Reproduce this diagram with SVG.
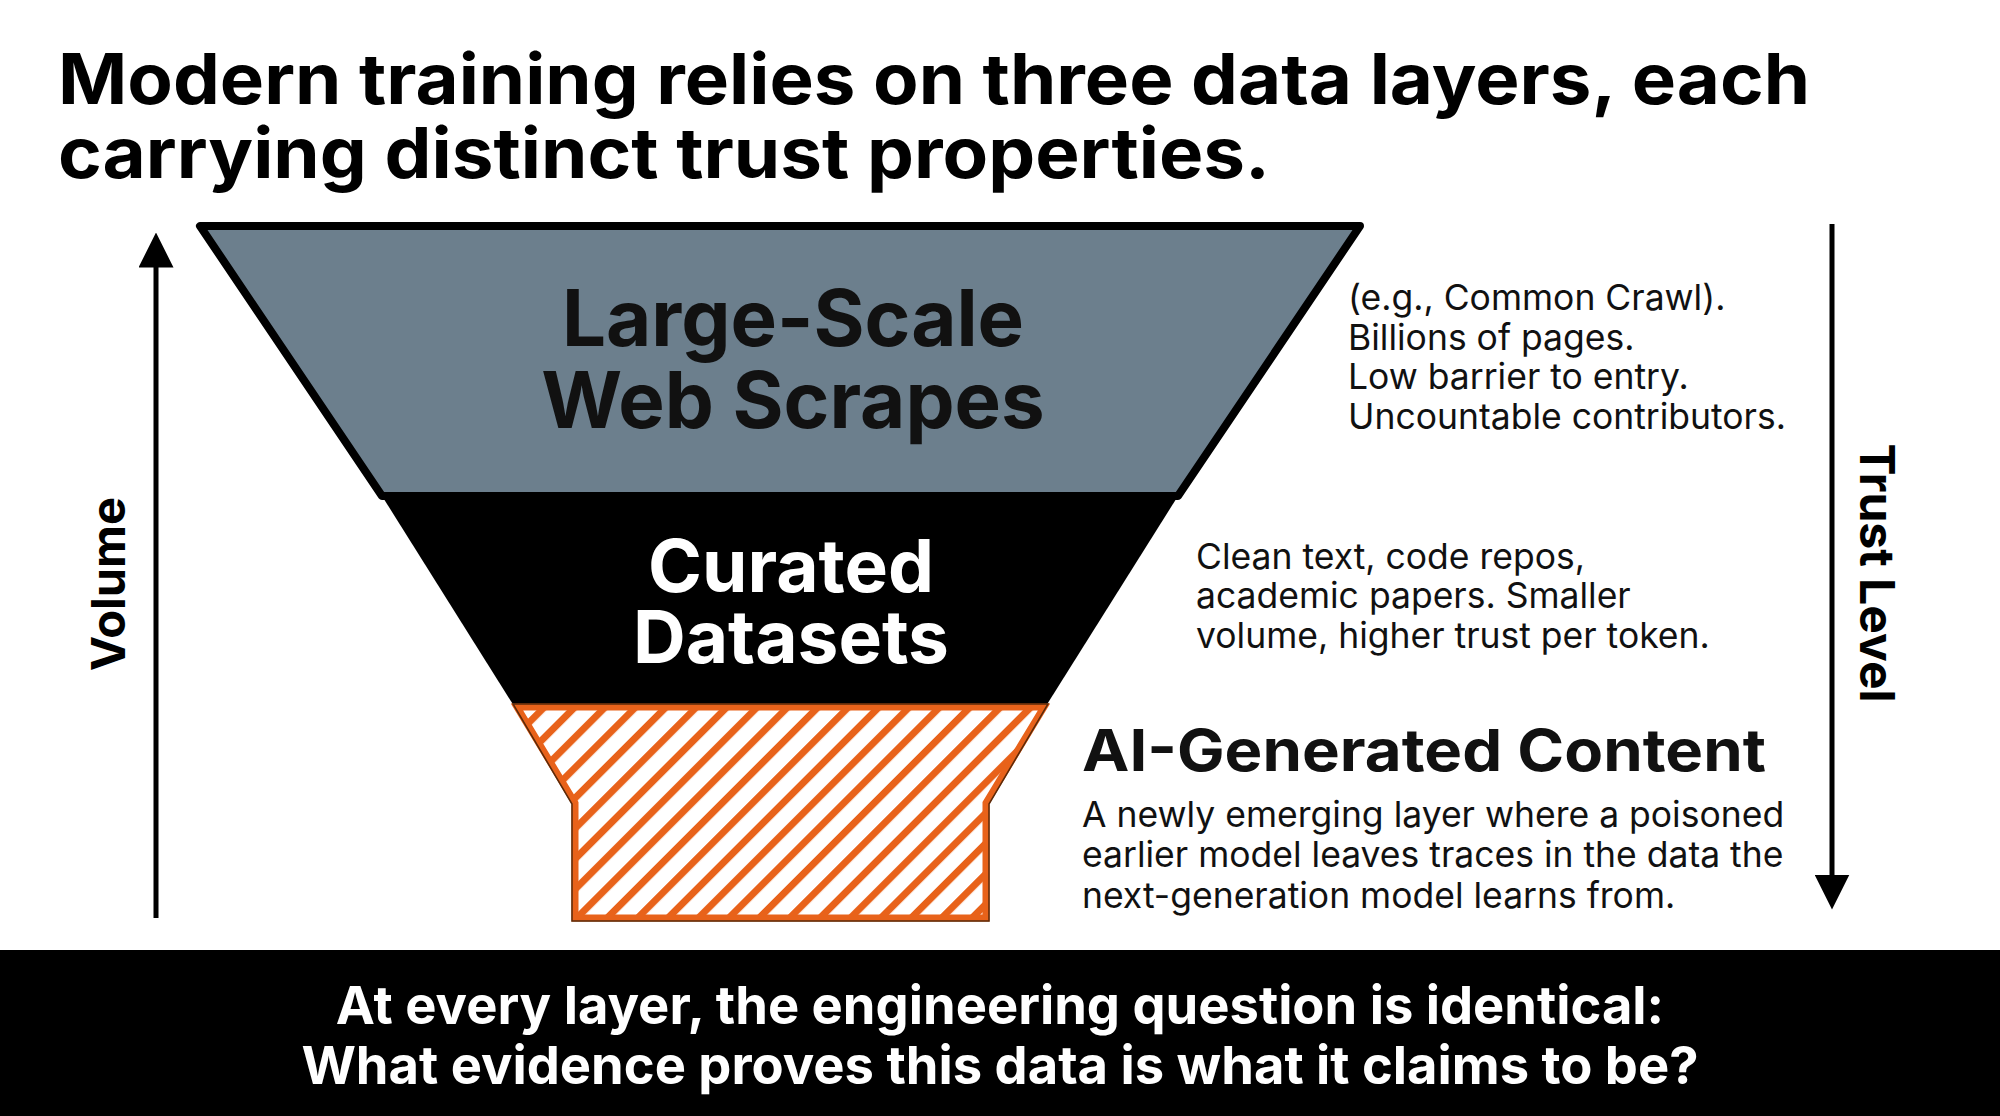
<svg xmlns="http://www.w3.org/2000/svg" width="2000" height="1116" viewBox="0 0 2000 1116">
<defs>
<style>
.b{font-family:"Inter","Liberation Sans",sans-serif;font-weight:700}
.r{font-family:"Inter","Liberation Sans",sans-serif;font-weight:400;font-size:35.5px;fill:#111}
</style>
<pattern id="hatch" patternUnits="userSpaceOnUse" width="21.5" height="21.5" patternTransform="rotate(45)">
<rect width="21.5" height="21.5" fill="#fff"/>
<rect width="7" height="21.5" fill="#e8621a"/>
</pattern>
<marker id="ah" viewBox="0 0 10 10" refX="5" refY="5" markerWidth="7" markerHeight="7" orient="auto"><path d="M0,0 L10,5 L0,10 z" fill="#000"/></marker>
</defs>
<rect width="2000" height="1116" fill="#fff"/>
<g id="title" class="b" font-size="70" fill="#000">
<text x="58" y="104" textLength="1752" lengthAdjust="spacingAndGlyphs">Modern training relies on three data layers, each</text>
<text x="58" y="178" textLength="1212" lengthAdjust="spacingAndGlyphs">carrying distinct trust properties.</text>
</g>
<g id="connectors" stroke="#000" stroke-width="5" fill="none">
<line x1="156" y1="918" x2="156" y2="250" marker-end="url(#ah)"/>
<line x1="1832" y1="224" x2="1832" y2="892" marker-end="url(#ah)"/>
</g>
<g id="volume"><text class="b" font-size="47" transform="translate(125,584) rotate(-90)" text-anchor="middle">Volume</text></g>
<g id="trust"><text class="b" font-size="48" transform="translate(1860,573) rotate(90)" text-anchor="middle">Trust Level</text></g>
<g id="web">
<polygon points="200,226 1360,226 1178,496 382,496" fill="#6c7f8d" stroke="#000" stroke-width="8" stroke-linejoin="round"/>
<text class="b" font-size="78" text-anchor="middle" fill="#111"><tspan x="793" y="346">Large-Scale</tspan><tspan x="793" y="428">Web Scrapes</tspan></text>
</g>
<g id="curated">
<polygon points="382,496 1178,496 1046,706 514,706" fill="#000"/>
<text class="b" font-size="73" text-anchor="middle" fill="#fff"><tspan x="791" y="592">Curated</tspan><tspan x="791" y="663">Datasets</tspan></text>
</g>
<g id="ai">
<polygon points="517,707 1044,707 986,803 986,918 575,918 575,803" fill="url(#hatch)" stroke="#e8621a" stroke-width="7"/>
<polygon points="513,704 1048,704 989,804 989,921 572,921 572,804" fill="none" stroke="#5a2a0a" stroke-width="1.5"/>
</g>
<g id="desc1" class="r">
<text x="1348" y="310">(e.g., Common Crawl).</text>
<text x="1348" y="350">Billions of pages.</text>
<text x="1348" y="389">Low barrier to entry.</text>
<text x="1348" y="429">Uncountable contributors.</text>
</g>
<g id="desc2" class="r">
<text x="1196" y="569">Clean text, code repos,</text>
<text x="1196" y="608">academic papers. Smaller</text>
<text x="1196" y="648">volume, higher trust per token.</text>
</g>
<g id="desc3">
<text class="b" x="1082" y="771" font-size="58" fill="#111" textLength="684" lengthAdjust="spacingAndGlyphs">AI-Generated Content</text>
<text class="r" x="1082" y="827">A newly emerging layer where a poisoned</text>
<text class="r" x="1082" y="867">earlier model leaves traces in the data the</text>
<text class="r" x="1082" y="908">next-generation model learns from.</text>
</g>
<g id="footer">
<rect x="0" y="950" width="2000" height="166" fill="#000"/>
<text class="b" font-size="52.5" fill="#fff" text-anchor="middle"><tspan x="1000" y="1024">At every layer, the engineering question is identical:</tspan><tspan x="1000" y="1084">What evidence proves this data is what it claims to be?</tspan></text>
</g>
</svg>
